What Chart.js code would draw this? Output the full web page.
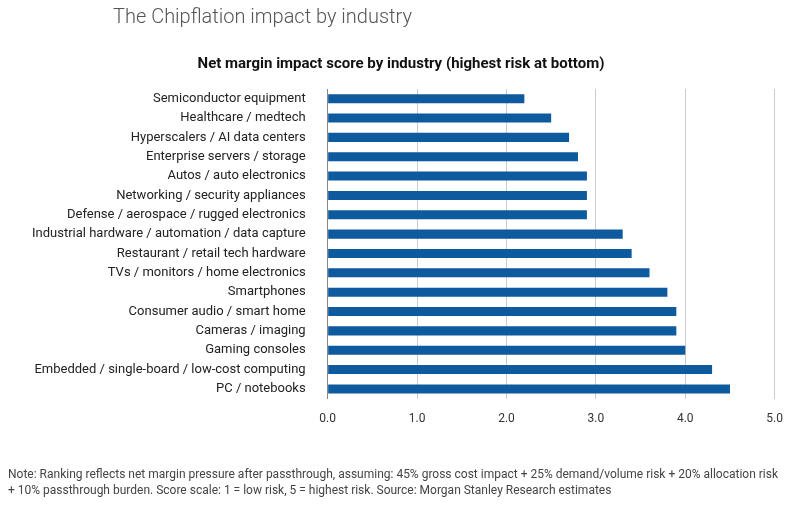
<!DOCTYPE html>
<html><head><meta charset="utf-8">
<script src="https://cdn.jsdelivr.net/npm/chart.js@4/dist/chart.umd.min.js"></script>
<style>
body{margin:0;background:#fff;font-family:Roboto,sans-serif;}
#wrap{position:relative;width:796px;height:506px;}
#t{position:absolute;left:113px;top:4px;font-size:20px;font-weight:300;color:#555;}
#n{position:absolute;left:8px;top:466px;width:772px;font-size:12px;color:#444;line-height:16px;}
canvas{position:absolute;left:0;top:0;}
</style></head><body>
<div id="wrap">
<canvas id="c" width="796" height="506"></canvas>
<div id="t">The Chipflation impact by industry</div>
<div id="n">Note: Ranking reflects net margin pressure after passthrough, assuming: 45% gross cost impact + 25% demand/volume risk + 20% allocation risk + 10% passthrough burden. Score scale: 1 = low risk, 5 = highest risk. Source: Morgan Stanley Research estimates</div>
</div>
<script>
const categories=["Semiconductor equipment","Healthcare / medtech","Hyperscalers / AI data centers","Enterprise servers / storage","Autos / auto electronics","Networking / security appliances","Defense / aerospace / rugged electronics","Industrial hardware / automation / data capture","Restaurant / retail tech hardware","TVs / monitors / home electronics","Smartphones","Consumer audio / smart home","Cameras / imaging","Gaming consoles","Embedded / single-board / low-cost computing","PC / notebooks"];
const scores=[2.2,2.5,2.7,2.8,2.9,2.9,2.9,3.3,3.4,3.6,3.8,3.9,3.9,4.0,4.3,4.5];
const xTicks=[0,1,2,3,4,5];
new Chart(document.getElementById('c'),{type:'bar',
data:{labels:categories,datasets:[{data:scores,backgroundColor:'#0d5a9e',categoryPercentage:0.47,barPercentage:1}]},
options:{indexAxis:'y',responsive:false,animation:false,
layout:{padding:{top:55,bottom:67,right:12,left:18}},
plugins:{legend:{display:false},tooltip:{enabled:false},
title:{display:true,text:'Net margin impact score by industry (highest risk at bottom)',color:'#111',font:{family:'Roboto',size:15,weight:'bold'},padding:{bottom:16}}},
scales:{x:{min:0,max:5,afterBuildTicks:a=>{a.ticks=xTicks.map(v=>({value:v}));},
ticks:{callback:v=>v.toFixed(1),color:'#333',font:{family:'Roboto',size:12},padding:13},
grid:{color:'#ccc',drawTicks:false},border:{display:false}},
y:{ticks:{color:'#222',font:{family:'Roboto',size:13},padding:14},grid:{display:false},border:{color:'#888'}}}}});
</script></body></html>
